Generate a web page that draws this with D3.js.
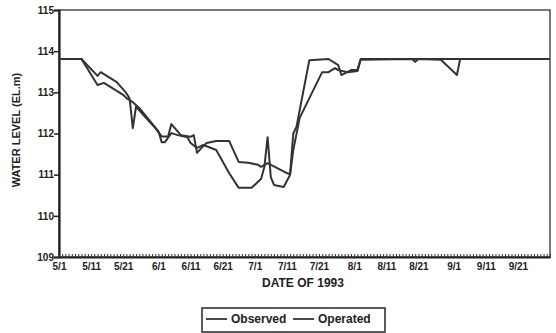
<!DOCTYPE html>
<html>
<head>
<meta charset="utf-8">
<script src="https://cdn.jsdelivr.net/npm/d3@7"></script>
<style>
  body { margin: 0; background: #fff; }
  text { font-family: "Liberation Sans", Arial, sans-serif; font-weight: bold; fill: #222; }
</style>
</head>
<body>
<svg id="chart" width="556" height="333"></svg>
<script>
// Water level readings, dates are M/D of 1993
const observedDates = ["5/1","5/8","5/13","5/14","5/19","5/22","5/23","5/24","5/25","5/31",
  "6/2","6/4","6/5","6/8","6/11","6/12","6/13","6/15","6/16","6/19","6/23","6/26","6/29",
  "7/2","7/3","7/5","7/11","7/12","7/13","7/14","7/18","7/24","7/27","7/28","7/31",
  "8/2","8/3","10/1"];
const observedLevels = [113.81,113.81,113.40,113.49,113.25,112.98,112.85,112.13,112.65,112.13,
  111.93,111.93,112.23,111.96,111.92,111.96,111.53,111.70,111.77,111.82,111.82,111.31,111.29,
  111.24,111.19,111.28,111.04,111.01,112.00,112.16,113.78,113.81,113.66,113.42,113.54,
  113.54,113.81,113.81];

const operatedDates = ["5/1","5/8","5/13","5/15","5/21","5/22","5/24","5/26","6/1","6/2",
  "6/3","6/5","6/7","6/10","6/11","6/13","6/15","6/19","6/23","6/26","6/30",
  "7/3","7/4","7/5","7/6","7/7","7/10","7/12","7/13","7/15","7/22","7/24","7/26","7/27","7/30",
  "8/2","8/3","8/19","8/20","8/21","8/28","9/2","9/3","10/1"];
const operatedLevels = [113.81,113.81,113.18,113.23,112.94,112.86,112.76,112.62,112.05,111.79,
  111.79,112.01,111.96,111.91,111.77,111.65,111.72,111.60,111.04,110.68,110.68,
  110.90,111.19,111.91,110.94,110.75,110.70,110.99,111.60,112.38,113.49,113.49,113.59,113.54,113.49,
  113.52,113.79,113.81,113.74,113.81,113.79,113.42,113.81,113.81];

const yTicks = [109, 110, 111, 112, 113, 114, 115];
const xTickLabels = ["5/1","5/11","5/21","6/1","6/11","6/21","7/1","7/11","7/21",
  "8/1","8/11","8/21","9/1","9/11","9/21"];
const legendLabels = ["Observed", "Operated"];

function parseDay(s) {
  let parts = s.split("/");
  return new Date(1993, +parts[0] - 1, +parts[1]);
}

const svg = d3.select("#chart");
const margin = {top: 10, right: 6, bottom: 76, left: 59};
const width = 556 - margin.left - margin.right;
const height = 333 - margin.top - margin.bottom;

const g = svg.append("g")
  .attr("transform", "translate(" + margin.left + "," + margin.top + ")");

const x = d3.scaleTime()
  .domain([parseDay("5/1"), parseDay("10/1")])
  .range([0, width]);

const y = d3.scaleLinear()
  .domain([109, 115])
  .range([height, 0]);

// Frame round the plot
g.append("rect")
  .attr("width", width)
  .attr("height", height)
  .attr("fill", "none")
  .attr("stroke", "#333")
  .attr("stroke-width", 1.3);

// Y axis
const yAxis = g.append("g")
  .call(d3.axisLeft(y).tickValues(yTicks).tickSize(5).tickFormat(d3.format("d")));
yAxis.select(".domain").attr("stroke", "#222").attr("stroke-width", 2.2);
yAxis.selectAll(".tick line").attr("stroke", "#222").attr("stroke-width", 1.5);
yAxis.selectAll(".tick text")
  .attr("x", -5)
  .style("font-size", "10px")
  .style("font-family", "Liberation Sans, Arial, sans-serif")
  .style("font-weight", "bold");

// X axis: daily ticks pointing up, labels on the 1st, 11th and 21st
const xAxisMinor = g.append("g")
  .attr("transform", "translate(0," + height + ")")
  .call(d3.axisBottom(x).ticks(d3.timeDay.every(1)).tickSizeInner(-3).tickSizeOuter(0).tickFormat(""));
xAxisMinor.select(".domain").attr("stroke", "#222").attr("stroke-width", 2.2);
xAxisMinor.selectAll(".tick line").attr("stroke", "#333").attr("stroke-width", 1);

const xAxisLabels = g.append("g")
  .attr("transform", "translate(0," + height + ")")
  .call(d3.axisBottom(x).tickValues(xTickLabels.map(parseDay)).tickSize(0)
    .tickFormat(d3.timeFormat("%-m/%-d")));
xAxisLabels.select(".domain").remove();
xAxisLabels.selectAll(".tick text")
  .attr("dy", "0.85em")
  .attr("y", 4)
  .style("font-size", "10px")
  .style("font-family", "Liberation Sans, Arial, sans-serif")
  .style("font-weight", "bold");

// Axis titles
svg.append("text")
  .attr("x", 303)
  .attr("y", 287)
  .attr("text-anchor", "middle")
  .style("font-size", "12px")
  .text("DATE OF 1993");

svg.append("text")
  .attr("transform", "translate(20,130) rotate(-90)")
  .attr("text-anchor", "middle")
  .style("font-size", "11px")
  .text("WATER LEVEL (EL.m)");

// Series lines
const line = d3.line()
  .x(d => x(d.date))
  .y(d => y(d.level));

function toPoints(dates, levels) {
  return dates.map((s, i) => ({date: parseDay(s), level: levels[i]}));
}

[toPoints(observedDates, observedLevels), toPoints(operatedDates, operatedLevels)].forEach(function(pts) {
  g.append("path")
    .datum(pts)
    .attr("d", line)
    .attr("fill", "none")
    .attr("stroke", "#333")
    .attr("stroke-width", 2)
    .attr("stroke-linejoin", "round");
});

// Legend
const legend = svg.append("g").attr("transform", "translate(202,308)");
legend.append("rect")
  .attr("width", 183)
  .attr("height", 24)
  .attr("fill", "none")
  .attr("stroke", "#333")
  .attr("stroke-width", 1.6);

const legendX = [4, 91];
legendLabels.forEach(function(label, i) {
  legend.append("line")
    .attr("x1", legendX[i])
    .attr("x2", legendX[i] + 21)
    .attr("y1", 11)
    .attr("y2", 11)
    .attr("stroke", "#333")
    .attr("stroke-width", 1.8);
  legend.append("text")
    .attr("x", legendX[i] + 25)
    .attr("y", 15)
    .style("font-size", "12px")
    .text(label);
});
</script>
</body>
</html>
